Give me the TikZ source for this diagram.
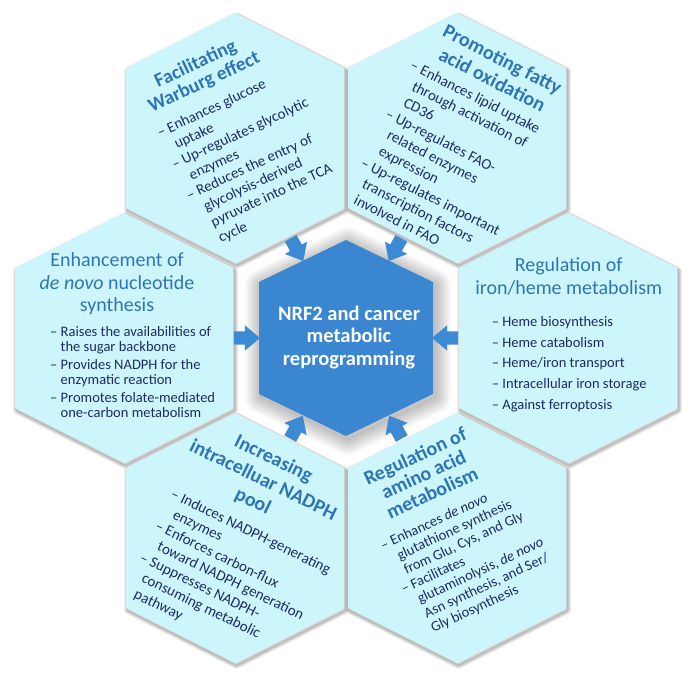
\documentclass[tikz,border=0pt]{standalone}
\usepackage{fontspec}
\setmainfont{Carlito}
\usetikzlibrary{calc,shapes.arrows}
\definecolor{hexfill}{RGB}{204,246,251}
\definecolor{titleblue}{RGB}{46,117,182}
\definecolor{bodyblue}{RGB}{30,42,98}
\definecolor{centerblue}{RGB}{58,134,208}
\definecolor{arrowblue}{RGB}{60,138,212}
\newcommand\outerhexpath[3]{([shift={(#2,#3-125)}]#1) -- ++(109,55) -- ++(0,140) -- ++(-109,55) -- ++(-109,-55) -- ++(0,-140) -- cycle}
\newcommand\innerhexpath[3]{([shift={(#2,#3-98)}]#1) -- ++(87,42) -- ++(0,112) -- ++(-87,42) -- ++(-87,-42) -- ++(0,-112) -- cycle}
\newcommand\bi{–\ }
\newcommand\ci{\hphantom{–\ }}
\tikzset{
  titletext/.style={anchor=base, inner sep=0pt, text=titleblue},
  bodytext/.style={anchor=base west, inner sep=0pt, text=bodyblue},
  blockarrow/.style={single arrow, fill=arrowblue, draw=none, inner xsep=0pt, inner ysep=6.5pt,
    minimum width=0pt, minimum height=26pt, single arrow head extend=6pt, single arrow tip angle=80},
}
\begin{document}
\begin{tikzpicture}[x=1pt,y=-1pt]
\path[use as bounding box, fill=white] (0,0) rectangle (696,683);
\coordinate (C) at (346,338);
\coordinate (W) at (235,138);
\coordinate (F) at (457,138);
\coordinate (E) at (124,338);
\coordinate (I) at (568,338);
\coordinate (N) at (235,538);
\coordinate (A) at (457,538);

% glow around centre hexagon
\foreach \w in {2,5,...,32}{
  \draw[black, line width=\w pt, opacity=0.022, line join=round] \innerhexpath{C}{2}{3};
}
% soft shadows of the outer hexagons
\foreach \h in {W,F,E,I,N,A}{
  \foreach \w in {1,2.5,4,5.5,7}{
    \draw[black, line width=\w pt, opacity=0.06, line join=round] \outerhexpath{\h}{1.5}{2.5};
  }
}
% outer hexagons
\foreach \h in {W,F,E,I,N,A}{
  \fill[hexfill] \outerhexpath{\h}{0}{0};
}
% centre hexagon
\fill[centerblue] \innerhexpath{C}{0}{0};

% arrows
\node[blockarrow, rotate=-61] (aW) at ($(C)!105pt!(W)$) {};
\node[blockarrow, rotate=-119] (aF) at ($(C)!105pt!(F)$) {};
\node[blockarrow, rotate=0] (aE) at ($(C)!103pt!(E)$) {};
\node[blockarrow, rotate=180] (aI) at ($(C)!103pt!(I)$) {};
\node[blockarrow, rotate=61] (aN) at ($(C)!106pt!(N)$) {};
\node[blockarrow, rotate=119] (aA) at ($(C)!106pt!(A)$) {};

% centre text
\begin{scope}[shift={(C)}]
\node[anchor=base, inner sep=0pt, text=white, font=\fontsize{20.5}{22.5}\selectfont\bfseries] (ctext) at (3,-18)
  {\begin{tabular}[t]{@{}c@{}}NRF2 and cancer\\metabolic\\reprogramming\end{tabular}};
\end{scope}

% Warburg
\begin{scope}[shift={(W)}, rotate=25, transform shape]
\node[titletext, font=\fontsize{19.5}{20}\selectfont\bfseries] (tW) at (-4.5,-78)
  {\begin{tabular}[t]{@{}c@{}}Facilitating\\Warburg effect\end{tabular}};
\node[bodytext, font=\fontsize{15}{17.3}\selectfont] (bW) at (-68,-32)
  {\begin{tabular}[t]{@{}l@{}}\bi Enhances glucose\\\ci uptake\\\bi Up-regulates glycolytic\\\ci enzymes\\\bi Reduces the entry of\\\ci glycolysis-derived\\\ci pyruvate into the TCA\\\ci cycle\end{tabular}};
\end{scope}

% FAO
\begin{scope}[shift={(F)}, rotate=-27, transform shape]
\node[titletext, font=\fontsize{20}{23}\selectfont\bfseries] (tF) at (5,-84)
  {\begin{tabular}[t]{@{}c@{}}Promoting fatty\\acid oxidation\end{tabular}};
\node[bodytext, font=\fontsize{15}{18.2}\selectfont] (bF) at (-74,-40)
  {\begin{tabular}[t]{@{}l@{}}\bi Enhances lipid uptake\\\ci through activation of\\\ci CD36\\\bi Up-regulates FAO-\\\ci related enzymes\\\ci expression\\\bi Up-regulates important\\\ci transcription factors\\\ci involved in FAO\end{tabular}};
\end{scope}

% Nucleotide synthesis
\begin{scope}[shift={(E)}]
\node[titletext, font=\fontsize{20}{22.5}\selectfont] (tE) at (-7,-71.3)
  {\begin{tabular}[t]{@{}c@{}}Enhancement of\\\textit{de novo} nucleotide\\synthesis\end{tabular}};
\node[bodytext, font=\fontsize{14.5}{15}\selectfont] (bE) at (-74,-2)
  {\begin{tabular}[t]{@{}l@{}}\bi Raises the availabilities of\\\ci the sugar backbone\\[3pt]\bi Provides NADPH for the\\\ci enzymatic reaction\\[3pt]\bi Promotes folate-mediated\\\ci one-carbon metabolism\end{tabular}};
\end{scope}

% Iron / heme
\begin{scope}[shift={(I)}]
\node[titletext, font=\fontsize{20}{23.3}\selectfont] (tI) at (0.7,-67)
  {\begin{tabular}[t]{@{}c@{}}Regulation of\\iron/heme metabolism\end{tabular}};
\node[bodytext, font=\fontsize{14.5}{20.6}\selectfont] (bI) at (-76.3,-11.3)
  {\begin{tabular}[t]{@{}l@{}}\bi Heme biosynthesis\\\bi Heme catabolism\\\bi Heme/iron transport\\\bi Intracellular iron storage\\\bi Against ferroptosis\end{tabular}};
\end{scope}

% NADPH
\begin{scope}[shift={(N)}, rotate=-26, transform shape]
\node[titletext, font=\fontsize{20}{23.5}\selectfont\bfseries] (tN) at (0,-82)
  {\begin{tabular}[t]{@{}c@{}}Increasing\\intracelluar NADPH\\pool\end{tabular}};
\node[bodytext, font=\fontsize{15}{17.7}\selectfont] (bN) at (-76.5,-8)
  {\begin{tabular}[t]{@{}l@{}}\bi Induces NADPH-generating\\\ci enzymes\\\bi Enforces carbon-flux\\\ci toward NADPH generation\\\bi Suppresses NADPH-\\\ci consuming metabolic\\\ci pathway\end{tabular}};
\end{scope}

% Amino acid
\begin{scope}[shift={(A)}, rotate=25, transform shape]
\node[titletext, font=\fontsize{20}{20.2}\selectfont\bfseries] (tA) at (-3.5,-85)
  {\begin{tabular}[t]{@{}c@{}}Regulation of\\amino acid\\metabolism\end{tabular}};
\node[bodytext, font=\fontsize{14.5}{16}\selectfont] (bA) at (-72,-20)
  {\begin{tabular}[t]{@{}l@{}}\bi Enhances \textit{de novo}\\\ci glutathione synthesis\\\ci from Glu, Cys, and Gly\\\bi Facilitates\\\ci glutaminolysis, \textit{de novo}\\\ci Asn synthesis, and Ser/\\\ci Gly biosynthesis\end{tabular}};
\end{scope}
\end{tikzpicture}
\end{document}
